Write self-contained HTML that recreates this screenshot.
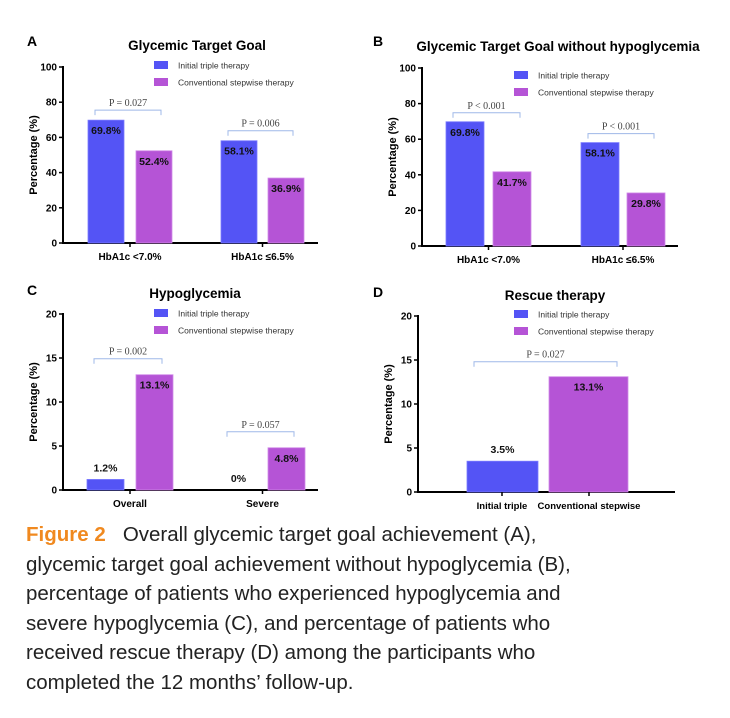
<!DOCTYPE html>
<html><head><meta charset="utf-8"><style>
body{margin:0;background:#fff;width:730px;height:718px;overflow:hidden;font-family:"Liberation Sans",sans-serif}
#cap{position:absolute;left:26px;top:520px;font-size:20.5px;line-height:29.6px;color:#222;width:700px}
#cap b{color:#f0891f}
</style></head><body>
<svg id="fig" width="730" height="516" style="position:absolute;left:0;top:0"></svg>
<div id="cap"><b>Figure 2</b>&nbsp;&nbsp; Overall glycemic target goal achievement (A),<br>glycemic target goal achievement without hypoglycemia (B),<br>percentage of patients who experienced hypoglycemia and<br>severe hypoglycemia (C), and percentage of patients who<br>received rescue therapy (D) among the participants who<br>completed the 12 months’ follow-up.</div>
<script>
const catsA=["HbA1c <7.0%","HbA1c ≤6.5%"];
const triA=[69.8,58.1];
const convA=[52.4,36.9];
const pA=["P = 0.027","P = 0.006"];
const catsB=["HbA1c <7.0%","HbA1c ≤6.5%"];
const triB=[69.8,58.1];
const convB=[41.7,29.8];
const pB=["P < 0.001","P < 0.001"];
const catsC=["Overall","Severe"];
const triC=[1.2,0];
const convC=[13.1,4.8];
const pC=["P = 0.002","P = 0.057"];
const catsD=["Initial triple","Conventional stepwise"];
const valsD=[3.5,13.1];
const pD=["P = 0.027"];
const ticks100=[0,20,40,60,80,100];
const ticks20=[0,5,10,15,20];
const BLUE="#5454f5",PURP="#b554d6";
const svg=document.getElementById('fig');
const NS="http://www.w3.org/2000/svg";
function mk(tag,at,txt){const e=document.createElementNS(NS,tag);for(const k in at)e.setAttribute(k,at[k]);if(txt!==undefined)e.textContent=txt;svg.appendChild(e);return e;}
function panel(o){
  const y=v=>o.y0-(v/o.max)*(o.y0-o.y1);
  let t=mk('text',{x:o.lx,y:o.ly,'font-size':14,'font-weight':'bold'},o.letter);
  
  
  t=mk('text',{x:o.tx,y:o.ty,'font-size':13.5,'font-weight':'bold','text-anchor':'middle'},o.title);
  
  
  let l=mk('line',{x1:o.ax,x2:o.ax,y1:o.y1-1,y2:o.y0+1,stroke:'#000','stroke-width':2});
  
  
  l=mk('line',{x1:o.ax,x2:o.xe,y1:o.y0,y2:o.y0,stroke:'#000','stroke-width':2});
  
  
  o.ticks.forEach(v=>{
    mk('line',{x1:o.ax-4,x2:o.ax,y1:y(v),y2:y(v),stroke:'#000','stroke-width':1.5});
    const tt=mk('text',{x:o.ax-6,y:y(v)+3.5,'font-size':10,'font-weight':'bold','text-anchor':'end'},v);
    
    
  });
  const yl=mk('text',{transform:`translate(${o.ax-26},${(o.y0+o.y1)/2}) rotate(-90)`,'font-size':11,'font-weight':'bold','text-anchor':'middle'},'Percentage (%)');
  
  
  [['Initial triple therapy',BLUE],['Conventional stepwise therapy',PURP]].forEach((e,i)=>{
    const r=mk('rect',{x:o.legx,y:o.legy+i*17-4,width:14,height:8,fill:e[1]});
    
    
    const tt=mk('text',{x:o.legx+24,y:o.legy+i*17+3.5,'font-size':8.5,fill:'#333'},e[0]);
    
    
  });
  o.groups.forEach((g,i)=>{
    g.bars.forEach(b=>{
      const top=y(b.v);
      if(b.v>0){const r=mk('rect',{x:b.x,y:top,width:b.w,height:o.y0-top,fill:b.c,stroke:b.c==BLUE?'#7a7aff':'#d08ae8','stroke-width':0.8});
      
      }
      const tt=mk('text',{x:b.x+b.w/2,y:b.in?top+14:top-8,'font-size':10.5,'font-weight':'bold','text-anchor':'middle',fill:'#111'},b.v+'%');
      
      
    });
    const bx1=g.bars[0].x+7,bx2=g.bars[g.bars.length-1].x+g.bars[g.bars.length-1].w-11;
    const by=y(Math.max(...g.bars.map(b=>b.v)))-o.bgap;
    const p=mk('path',{d:`M${bx1},${by+5}V${by}H${bx2}V${by+5}`,fill:'none',stroke:'#9fb8e8','stroke-width':1});
    
    
    const pt=mk('text',{x:(bx1+bx2)/2,y:by-4,'font-size':10,'font-family':'Liberation Serif, serif','text-anchor':'middle',fill:'#444'},g.p);
    
    
    if(g.cat){
      const cl=mk('text',{x:g.cx,y:o.y0+17,'font-size':10,'font-weight':'bold','text-anchor':'middle'},g.cat);
      
      
      mk('line',{x1:g.cx,x2:g.cx,y1:o.y0,y2:o.y0+4,stroke:'#000','stroke-width':1.5});
    }
  });
}
function grp(cats,tri,conv,ps,xs,w,inside){
  return cats.map((c,i)=>({cat:c,p:ps[i],cx:(xs[i][0]+xs[i][1]+w)/2,
    bars:[{v:tri[i],x:xs[i][0],w:w,c:BLUE,in:inside&&tri[i]>5},{v:conv[i],x:xs[i][1],w:w,c:PURP,in:inside?true:conv[i]>3}]}));
}
panel({letter:'A',lx:27,ly:46,title:'Glycemic Target Goal',tx:197,ty:50,ax:63,xe:318,y0:243,y1:67,max:100,ticks:ticks100,legx:154,legy:65,bgap:10,
  groups:grp(catsA,triA,convA,pA,[[88,136],[221,268]],36,true)});
panel({letter:'B',lx:373,ly:46,title:'Glycemic Target Goal without hypoglycemia',tx:558,ty:51,ax:422,xe:678,y0:246,y1:68,max:100,ticks:ticks100,legx:514,legy:75,bgap:9,
  groups:grp(catsB,triB,convB,pB,[[446,493],[581,627]],38,true)});
panel({letter:'C',lx:27,ly:295,title:'Hypoglycemia',tx:195,ty:298,ax:63,xe:318,y0:490,y1:314,max:20,ticks:ticks20,legx:154,legy:313,bgap:16,
  groups:grp(catsC,triC,convC,pC,[[87,136],[220,268]],37,false).map(g=>{g.bars.forEach(b=>{b.in=b.c==PURP;});return g;})});
panel({letter:'D',lx:373,ly:297,title:'Rescue therapy',tx:555,ty:300,ax:418,xe:675,y0:492,y1:316,max:20,ticks:ticks20,legx:514,legy:314,bgap:15,
  groups:[{cat:'',p:pD[0],cx:0,bars:[{v:valsD[0],x:467,w:71,c:BLUE,in:false},{v:valsD[1],x:549,w:79,c:PURP,in:true}]}]});
[[catsD[0],502],[catsD[1],589]].forEach(a=>{
  const t=mk('text',{x:a[1],y:509,'font-size':9.5,'font-weight':'bold','text-anchor':'middle'},a[0]);
  
  
  mk('line',{x1:a[1],x2:a[1],y1:492,y2:496,stroke:'#000','stroke-width':1.5});
});
</script>
</body></html>
